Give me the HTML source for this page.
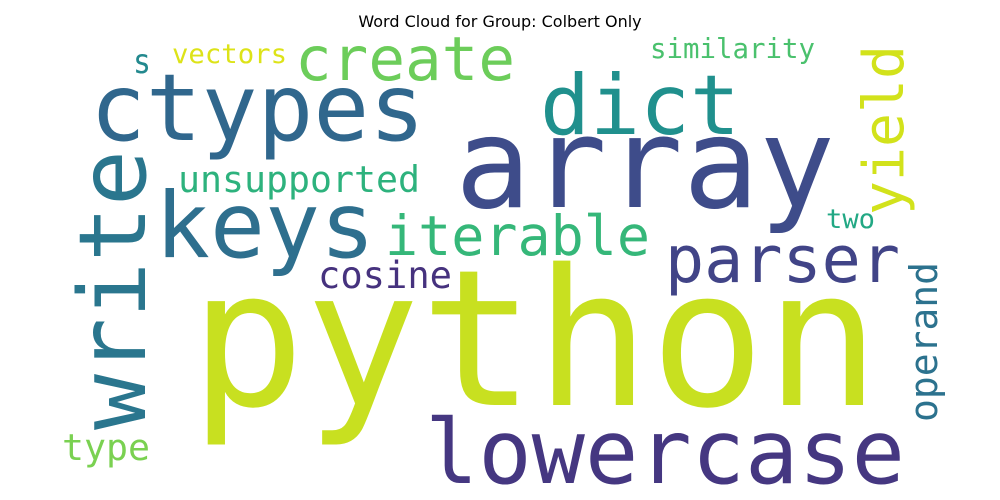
<!DOCTYPE html>
<html><head><meta charset="utf-8"><style>
html,body{margin:0;padding:0;background:#fff;}
svg{display:block;}
text{font-family:"DejaVu Sans Mono","Liberation Mono",monospace;}
</style></head><body>
<svg id="cloud" width="1000" height="500" viewBox="0 0 1000 500">
<text x="500" y="27" text-anchor="middle" style="font-family:'DejaVu Sans','Liberation Sans',sans-serif;font-size:16px" fill="#000">Word Cloud for Group: Colbert Only</text>
<g id="words"></g>
</svg>
<script>
const words = ["python","array","ctypes","dict","keys","write","create","lowercase","parser","iterable","unsupported","cosine","yield","operand","similarity","vectors","s","two","type"];
const sizes = [190,126,93,83,91,93,61,89,65,55,36.5,37,56,38,27.5,27,34,27,36.5];
const colors = ["#c8e020","#3e4c8a","#30678d","#20908d","#2e6f8e","#2a768e","#6ccd5a","#453781","#414487","#35b779","#2db27d","#46327e","#d2e21b","#2c728e","#4ac16d","#dde318","#23898e","#22a884","#7ad151"];
const anchorX = [190,455,90,540,155,145,295,425,665,385,178,318,903,937,650,172,133,826,62];
const anchorY = [405,207,140,134,257,430,80,483,282,255,192,288,215,422,58,63,73,228,460];
const spans = [690,380,335,200,220,280,220,480,235,265,242,134,170,160,165,115,18,49,88];
const vertical = [0,0,0,0,0,1,0,0,0,0,0,0,1,1,0,0,0,0,0];
const g = document.getElementById('words');
const ns = "http://www.w3.org/2000/svg";
words.forEach((w,i)=>{
  const t = document.createElementNS(ns,'text');
  
  
  t.textContent = w;
  t.setAttribute('font-size', sizes[i]);
  t.setAttribute('fill', colors[i]);
  t.setAttribute('textLength', spans[i]);
  t.setAttribute('lengthAdjust', 'spacingAndGlyphs');
  t.setAttribute('x', 0); t.setAttribute('y', 0);
  const rot = vertical[i] ? ' rotate(-90)' : '';
  t.setAttribute('transform', 'translate(' + anchorX[i] + ',' + anchorY[i] + ')' + rot);
  g.appendChild(t);
});
</script>
</body></html>
